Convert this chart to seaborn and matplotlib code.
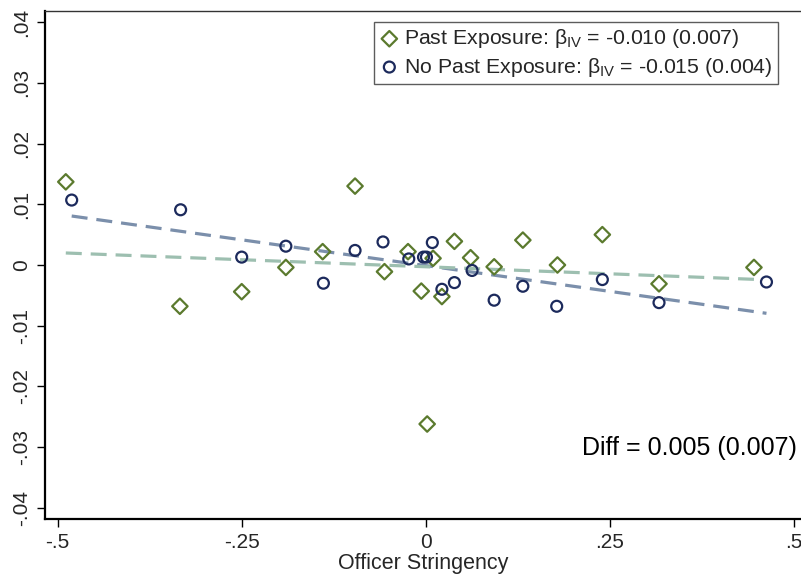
import numpy as np
import pandas as pd
import matplotlib
matplotlib.use("Agg")
import matplotlib.pyplot as plt
import seaborn as sns

# ---- data ----
past_x = [-0.489, -0.334, -0.250, -0.190, -0.140, -0.096, -0.056, -0.024, -0.006, 0.002,
          0.010, 0.022, 0.039, 0.061, 0.093, 0.132, 0.179, 0.240, 0.317, 0.446]
past_y = [0.0137, -0.0068, -0.0044, -0.0004, 0.0022, 0.0130, -0.0011, 0.0022, -0.0043, -0.0262,
          0.0011, -0.0052, 0.0039, 0.0012, -0.0003, 0.0041, 0.0000, 0.0050, -0.0031, -0.0004]
nopast_x = [-0.481, -0.333, -0.250, -0.190, -0.139, -0.096, -0.058, -0.023, -0.003, 0.001,
            0.009, 0.022, 0.039, 0.063, 0.093, 0.132, 0.178, 0.240, 0.317, 0.463]
nopast_y = [0.0107, 0.0091, 0.0013, 0.0031, -0.0030, 0.0024, 0.0038, 0.0010, 0.0013, 0.0013,
            0.0037, -0.0040, -0.0029, -0.0009, -0.0058, -0.0035, -0.0068, -0.0024, -0.0062, -0.0028]
# fitted lines (end points)
past_fit_x = [-0.489, 0.446]
past_fit_y = [0.00198, -0.00236]
nopast_fit_x = [-0.481, 0.463]
nopast_fit_y = [0.00807, -0.00796]

x_ticks = [-0.5, -0.25, 0, 0.25, 0.5]
x_ticklabels = ["-.5", "-.25", "0", ".25", ".5"]
y_ticks = [-0.04, -0.03, -0.02, -0.01, 0, 0.01, 0.02, 0.03, 0.04]
y_ticklabels = ["-.04", "-.03", "-.02", "-.01", "0", ".01", ".02", ".03", ".04"]

label_past = "Past Exposure: β$_{\\mathrm{IV}}$ = -0.010 (0.007)"
label_nopast = "No Past Exposure: β$_{\\mathrm{IV}}$ = -0.015 (0.004)"
diff_text = "Diff = 0.005 (0.007)"
x_label = "Officer Stringency"

# ---- styling ----
sns.set_theme(style="white")
plt.rcParams["font.family"] = ["Liberation Sans", "DejaVu Sans"]
plt.rcParams["mathtext.fontset"] = "custom"
plt.rcParams["mathtext.rm"] = "Liberation Sans"
plt.rcParams["mathtext.it"] = "Liberation Sans:italic"
plt.rcParams["mathtext.bf"] = "Liberation Sans:bold"

green = "#5b7a2e"
navy = "#1c2a5c"
line_blue = "#7b8fab"
line_green = "#9dbfb0"

fig = plt.figure(figsize=(8.01, 5.80), dpi=100)
ax = fig.add_axes([45 / 801, 1 - 519 / 580, (801 - 45) / 801, (519 - 11) / 580])

pts = pd.DataFrame({
    "x": past_x + nopast_x,
    "y": past_y + nopast_y,
    "grp": [label_past] * len(past_x) + [label_nopast] * len(nopast_x),
})
fits = pd.DataFrame({
    "x": past_fit_x + nopast_fit_x,
    "y": past_fit_y + nopast_fit_y,
    "grp": ["pf"] * 2 + ["nf"] * 2,
})

sns.lineplot(data=fits[fits.grp == "nf"], x="x", y="y", ax=ax, color=line_blue,
             lw=2.3, dashes=(5, 2.8), legend=False, zorder=2)
sns.lineplot(data=fits[fits.grp == "pf"], x="x", y="y", ax=ax, color=line_green,
             lw=2.3, dashes=(5, 2.8), legend=False, zorder=2)

sns.scatterplot(data=pts[pts.grp == label_past], x="x", y="y", ax=ax, marker="D",
                s=62, facecolor="none", edgecolor=green, linewidth=1.6,
                label=label_past, zorder=3)
sns.scatterplot(data=pts[pts.grp == label_nopast], x="x", y="y", ax=ax, marker="o",
                s=62, facecolor="none", edgecolor=navy, linewidth=1.6,
                label=label_nopast, zorder=3)

ax.set_xlim((45 - 425.7) / 736, (801 - 425.7) / 736)
ax.set_ylim(-0.04185, 0.04185)
ax.set_xticks(x_ticks)
ax.set_xticklabels(x_ticklabels)
ax.set_yticks(y_ticks)
ax.set_yticklabels(y_ticklabels, rotation=90, va="center")
ax.tick_params(axis="both", direction="out", length=6, width=1.0, color="black",
               labelsize=15, pad=4, left=True, bottom=True)
ax.set_xlabel(x_label, fontsize=15.5, labelpad=1)
ax.set_ylabel("")

for s in ["left", "bottom"]:
    ax.spines[s].set_linewidth(1.6)
    ax.spines[s].set_color("black")
ax.spines["top"].set_linewidth(1.0)
ax.spines["top"].set_color("#333333")
ax.spines["right"].set_visible(False)

ax.text(0.994, 0.14, diff_text, transform=ax.transAxes, ha="right", va="center",
        fontsize=18, color="black")

leg = ax.legend(loc="upper right", bbox_to_anchor=((778 - 45) / 756, (519 - 22) / 508),
                borderaxespad=0, frameon=True, fancybox=False, fontsize=15.3,
                handletextpad=0.25, borderpad=0.25, labelspacing=0.25, handlelength=0.9)
leg.get_frame().set_edgecolor("#333333")
leg.get_frame().set_linewidth(1.0)

fig.savefig("out.png", dpi=100)
